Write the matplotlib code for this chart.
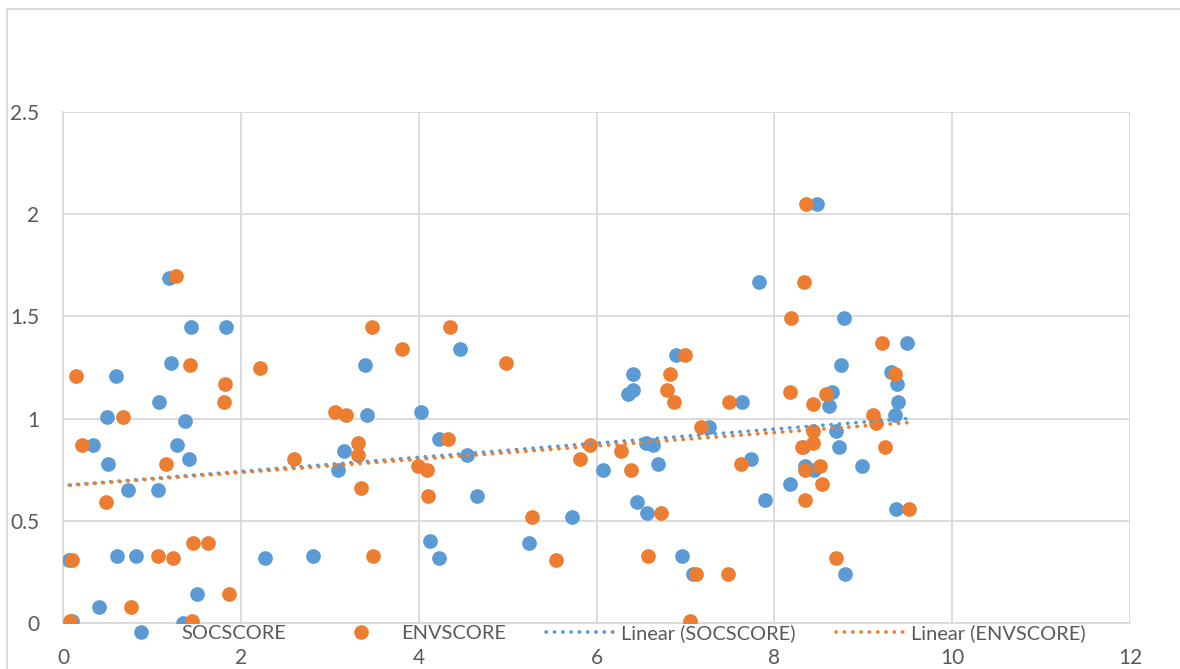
import matplotlib.pyplot as plt
import numpy as np
from matplotlib.lines import Line2D
from matplotlib.patches import Rectangle

plt.rcParams['font.family'] = ['Lato', 'DejaVu Sans']

# SOCSCORE series (x, y)
soc_x = [0.10, 0.07, 0.34, 0.40, 0.49, 0.51, 0.60, 0.61, 0.73, 0.82,
         1.08, 1.07, 1.19, 1.22, 1.28, 1.37, 1.35, 1.42, 1.44, 1.51,
         1.83, 2.27, 2.81, 3.09, 3.16, 3.40, 3.42, 4.03, 4.13, 4.23,
         4.23, 4.46, 4.54, 4.66, 5.24, 5.72, 6.07, 6.35, 6.41, 6.41,
         6.46, 6.56, 6.57, 6.63, 6.69, 6.89, 6.96, 7.08, 7.27, 7.64,
         7.74, 7.83, 7.90, 8.18, 8.32, 8.34, 8.45, 8.48, 8.62, 8.65,
         8.69, 8.73, 8.75, 8.78, 8.79, 8.99, 9.31, 9.36, 9.37, 9.38,
         9.39, 9.49]
soc_y = [0.01, 0.31, 0.87, 0.08, 1.01, 0.78, 1.21, 0.33, 0.65, 0.33,
         1.08, 0.65, 1.69, 1.27, 0.87, 0.99, 0.00, 0.80, 1.45, 0.14,
         1.45, 0.32, 0.33, 0.75, 0.84, 1.26, 1.02, 1.03, 0.40, 0.90,
         0.32, 1.34, 0.82, 0.62, 0.39, 0.52, 0.75, 1.12, 1.14, 1.22,
         0.59, 0.88, 0.54, 0.87, 0.78, 1.31, 0.33, 0.24, 0.96, 1.08,
         0.80, 1.67, 0.60, 0.68, 0.86, 0.77, 0.75, 2.05, 1.06, 1.13,
         0.94, 0.86, 1.26, 1.49, 0.24, 0.77, 1.23, 1.02, 0.56, 1.17,
         1.08, 1.37]

# ENVSCORE series (x, y)
env_x = [0.08, 0.10, 0.15, 0.21, 0.48, 0.67, 0.76, 1.07, 1.16, 1.24,
         1.27, 1.43, 1.45, 1.46, 1.63, 1.81, 1.82, 1.87, 2.22, 2.60,
         3.06, 3.18, 3.32, 3.32, 3.35, 3.47, 3.49, 3.81, 3.99, 4.09,
         4.11, 4.33, 4.35, 4.98, 5.28, 5.55, 5.82, 5.93, 6.28, 6.39,
         6.58, 6.73, 6.79, 6.83, 6.87, 6.99, 7.05, 7.12, 7.18, 7.48,
         7.49, 7.63, 8.18, 8.19, 8.31, 8.33, 8.34, 8.34, 8.36, 8.43,
         8.43, 8.44, 8.51, 8.54, 8.58, 8.69, 9.11, 9.14, 9.21, 9.25,
         9.36, 9.52]
env_y = [0.01, 0.31, 1.21, 0.87, 0.59, 1.01, 0.08, 0.33, 0.78, 0.32,
         1.70, 1.26, 0.01, 0.39, 0.39, 1.08, 1.17, 0.14, 1.25, 0.80,
         1.03, 1.02, 0.88, 0.82, 0.66, 1.45, 0.33, 1.34, 0.77, 0.75,
         0.62, 0.90, 1.45, 1.27, 0.52, 0.31, 0.80, 0.87, 0.84, 0.75,
         0.33, 0.54, 1.14, 1.22, 1.08, 1.31, 0.01, 0.24, 0.96, 0.24,
         1.08, 0.78, 1.13, 1.49, 0.86, 1.67, 0.75, 0.60, 2.05, 1.07,
         0.88, 0.94, 0.77, 0.68, 1.12, 0.32, 1.02, 0.98, 1.37, 0.86,
         1.22, 0.56]

blue = '#5B9BD5'
orange = '#ED7D31'
grid_c = '#D9D9D9'
text_c = '#595959'

fig = plt.figure(figsize=(11.8, 6.69), dpi=100)
ax = fig.add_axes([63 / 1180, 1 - 623 / 669, (1130 - 63) / 1180, (623 - 112) / 669])

ax.scatter(soc_x, soc_y, s=112, color=blue, linewidths=0, zorder=3)
ax.scatter(env_x, env_y, s=112, color=orange, linewidths=0, zorder=3)

# linear trendlines over each series' x range
dots = (0, (0.1, 2.2))
for xs, ys, c in [(soc_x, soc_y, blue), (env_x, env_y, orange)]:
    k, b = np.polyfit(xs, ys, 1)
    tx = np.array([min(xs), max(xs)])
    ax.plot(tx, k * tx + b, color=c, lw=2.6, linestyle=dots,
            dash_capstyle='round', zorder=4)

ax.set_xlim(0, 12)
ax.set_ylim(0, 2.5)
ax.set_xticks(range(0, 13, 2))
ax.set_yticks([0, 0.5, 1, 1.5, 2, 2.5])
ax.set_yticklabels(['0', '0.5', '1', '1.5', '2', '2.5'])
ax.grid(True, color=grid_c, lw=1.3, zorder=0)
ax.set_axisbelow(True)
for side in ['top', 'right']:
    ax.spines[side].set_visible(False)
for side in ['left', 'bottom']:
    ax.spines[side].set_color(grid_c)
    ax.spines[side].set_linewidth(1.3)
ax.tick_params(length=0, labelsize=15, colors=text_c)
ax.tick_params(axis='x', pad=18)
ax.tick_params(axis='y', pad=17)

handles = [
    Line2D([], [], marker='o', ls='', color=blue, markersize=10.5, markeredgewidth=0),
    Line2D([], [], marker='o', ls='', color=orange, markersize=10.5, markeredgewidth=0),
    Line2D([], [], color=blue, lw=2.6, linestyle=dots, dash_capstyle='round'),
    Line2D([], [], color=orange, lw=2.6, linestyle=dots, dash_capstyle='round'),
]
labels = ['SOCSCORE', 'ENVSCORE', 'Linear (SOCSCORE)', 'Linear (ENVSCORE)']
fig.legend(handles, labels, loc='center', bbox_to_anchor=(0.505, 1 - 633 / 669),
           ncol=4, frameon=False, fontsize=14.4, labelcolor=text_c,
           handlelength=3.5, handletextpad=0.25, columnspacing=2.0,
           borderpad=0, borderaxespad=0)

# outer chart border (only left and top edges show)
fig.patches.append(Rectangle((7 / 1180, -0.1), 1.2, 1 - 9 / 669 + 0.1,
                             transform=fig.transFigure, fill=False,
                             edgecolor=grid_c, lw=1.3))

plt.savefig('out.png', dpi=100)
